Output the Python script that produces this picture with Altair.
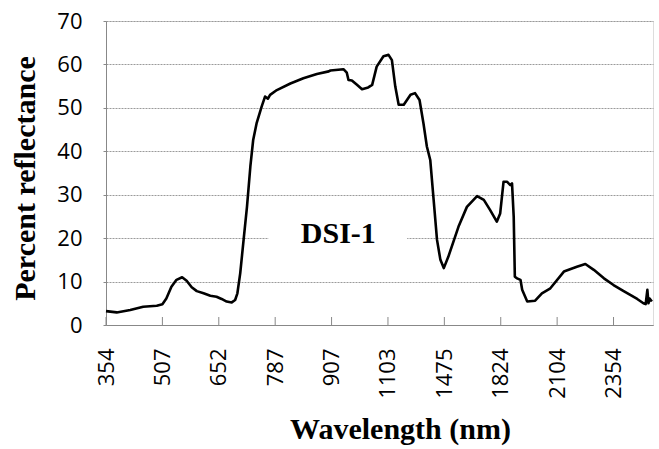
import altair as alt
import pandas as pd

# Category-axis tick labels (wavelength, nm) shown at every labelled category
tick_labels = ["354", "507", "652", "787", "907", "1103", "1475", "1824", "2104", "2354"]

# Position along the category axis (in label-interval units) and percent reflectance
pos = [0.00, 0.19, 0.43, 0.66, 0.90, 1.00, 1.07, 1.16, 1.25, 1.35, 1.43, 1.52, 1.61,
       1.73, 1.85, 1.96, 2.05, 2.14, 2.23, 2.29, 2.33, 2.38, 2.44, 2.50, 2.56, 2.61,
       2.67, 2.76, 2.82, 2.87, 2.91, 3.03, 3.27, 3.50, 3.74, 3.95, 3.98, 4.21, 4.27,
       4.30, 4.36, 4.45, 4.54, 4.65, 4.72, 4.80, 4.92, 5.01, 5.07, 5.13, 5.19, 5.28,
       5.40, 5.48, 5.56, 5.63, 5.69, 5.75, 5.81, 5.87, 5.93, 5.99, 6.07, 6.25, 6.40,
       6.58, 6.70, 6.81, 6.93, 6.99, 7.05, 7.11, 7.17, 7.20, 7.23, 7.25, 7.29, 7.35,
       7.38, 7.47, 7.61, 7.73, 7.88, 8.12, 8.35, 8.50, 8.65, 8.83, 9.00, 9.18, 9.42,
       9.53, 9.57, 9.60, 9.62, 9.64, 9.68]
reflectance = [3.2, 2.9, 3.45, 4.2, 4.45, 4.8, 6.1, 8.8, 10.4, 11.0, 10.2, 8.7, 7.8,
               7.3, 6.75, 6.5, 6.0, 5.4, 5.2, 5.75, 7.3, 11.9, 19.6, 27.2, 36.5, 42.6,
               46.4, 50.3, 52.6, 52.1, 53.0, 54.1, 55.6, 56.8, 57.8, 58.4, 58.6, 58.9, 58.1,
               56.4, 56.3, 55.3, 54.3, 54.7, 55.3, 59.5, 61.9, 62.2, 61.0, 54.9, 50.7, 50.7,
               53.0, 53.4, 51.8, 46.4, 41.1, 38.0, 28.8, 19.6, 15.0, 13.1, 15.7, 22.6, 27.2,
               29.7, 28.8, 26.5, 23.8, 25.7, 33.0, 33.0, 32.2, 32.6, 24.9, 11.1, 10.75, 10.4,
               8.1, 5.4, 5.6, 7.3, 8.45, 12.3, 13.4, 14.05, 12.7, 10.75, 9.2, 7.8, 6.0,
               5.0, 4.8, 8.1, 5.0, 6.1, 5.4]

# In-chart label and the white box behind it (which hides the 20% gridline)
label_text = ["DSI-1"]
label_pos = [4.12]
label_value = [18.95]
box_center = [4.11]
box_value = [20]

df = pd.DataFrame({"pos": pos, "reflectance": reflectance})
ticks_df = pd.DataFrame({"pos": list(range(len(tick_labels)))})
label_df = pd.DataFrame({"pos": label_pos, "reflectance": label_value, "text": label_text})
box_df = pd.DataFrame({"pos": box_center, "reflectance": box_value})

label_expr = "[" + ",".join(f"'{t}'" for t in tick_labels) + "][round(datum.value)]"

x_scale = alt.Scale(domain=[0, 9.70], nice=False, zero=False)
y_scale = alt.Scale(domain=[0, 70], nice=False)

x_axis = alt.Axis(
    values=list(range(len(tick_labels))), labelExpr=label_expr, labelAngle=-90,
    labelFont="Open Sans", labelFontSize=22, labelColor="black", labelPadding=23,
    ticks=False, grid=False, domainColor="#888888", domainWidth=1,
    title="Wavelength (nm)", titleFont="Liberation Serif", titleFontSize=30,
    titleFontWeight="bold", titleColor="black", titleX=294, titleY=113,
    titleAlign="center", titleBaseline="alphabetic",
)
y_axis = alt.Axis(
    values=list(range(0, 71, 10)), labelFont="Open Sans", labelFontSize=22,
    labelColor="black", labelPadding=21, tickSize=3, tickColor="#888888",
    domainColor="#888888", domainWidth=1, gridColor="#9a9a9a", gridDash=[2, 1],
    gridWidth=1, title="Percent reflectance", titleFont="Liberation Serif",
    titleFontSize=30, titleFontWeight="bold", titleColor="black", titleAngle=-90,
    titleX=-72, titleY=157, titleAlign="center", titleBaseline="alphabetic",
)

line = alt.Chart(df).mark_line(color="black", strokeWidth=2.6, strokeJoin="round").encode(
    x=alt.X("pos:Q", scale=x_scale, axis=x_axis),
    y=alt.Y("reflectance:Q", scale=y_scale, axis=y_axis),
)

inner_ticks = alt.Chart(ticks_df).mark_rule(color="#888888", strokeWidth=1).encode(
    x=alt.X("pos:Q", scale=x_scale),
    y=alt.value(304),
    y2=alt.value(296),
)

box = alt.Chart(box_df).transform_calculate(
    x1="datum.pos - 1.23", x2="datum.pos + 1.23",
    y1="datum.reflectance - 4", y2="datum.reflectance + 4",
).mark_rect(color="white").encode(
    x=alt.X("x1:Q", scale=x_scale),
    x2="x2:Q",
    y=alt.Y("y1:Q", scale=y_scale),
    y2="y2:Q",
)

text = alt.Chart(label_df).mark_text(
    font="Liberation Serif", fontSize=30, fontWeight="bold", color="black",
    align="center", baseline="alphabetic",
).encode(
    x=alt.X("pos:Q", scale=x_scale),
    y=alt.Y("reflectance:Q", scale=y_scale),
    text="text:N",
)

chart = alt.layer(box, inner_ticks, text, line).properties(
    width=547, height=304,
    autosize=alt.AutoSizeParams(type="none"),
    padding={"left": 106, "top": 21, "right": 6, "bottom": 124},
).configure_view(stroke=None).configure(background="white")

chart.save("out.html", embed_options={"renderer": "svg", "actions": False})
